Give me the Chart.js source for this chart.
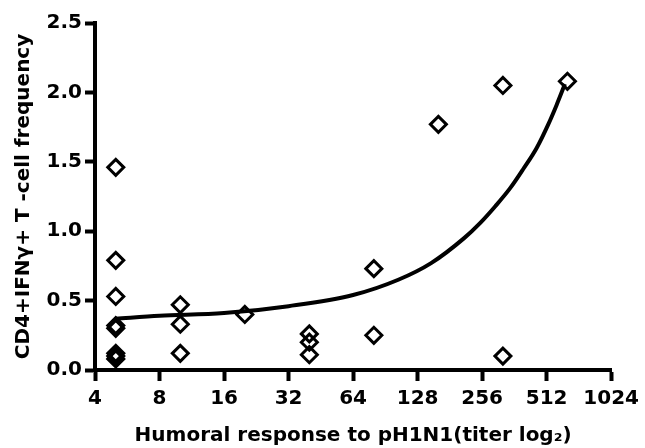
<!DOCTYPE html>
<html>
<head>
<meta charset="utf-8">
<script src="https://cdn.jsdelivr.net/npm/chart.js@4/dist/chart.umd.min.js"></script>
<style>
  html, body { margin: 0; padding: 0; background: #fff; }
  #wrap { width: 645px; height: 448px; position: relative; }
</style>
</head>
<body>
<div id="wrap"><canvas id="titerChart"></canvas></div>
<script>
// titer (x) and CD4+IFNg+ frequency (y) of every subject
const titers = [5, 5, 5, 5, 5, 5, 5, 5, 10, 10, 10, 20, 40, 40, 40, 80, 80, 160, 320, 320, 640];
const freqs = [1.46, 0.79, 0.53, 0.32, 0.30, 0.12, 0.10, 0.08, 0.47, 0.33, 0.12, 0.40, 0.26, 0.20, 0.11, 0.73, 0.25, 1.77, 2.05, 0.10, 2.08];

// fitted curve
const fitX = [5, 8, 16, 32, 64, 104, 148, 211, 251, 295, 346, 399, 460, 521, 570, 623];
const fitY = [0.37, 0.39, 0.41, 0.46, 0.54, 0.65, 0.77, 0.95, 1.06, 1.18, 1.31, 1.45, 1.60, 1.77, 1.91, 2.06];

const xTicks = [4, 8, 16, 32, 64, 128, 256, 512, 1024];
const yTicks = [0, 0.5, 1.0, 1.5, 2.0, 2.5];

const FONT = "'DejaVu Sans', sans-serif";

document.addEventListener("DOMContentLoaded", () => {
    const ctx = document.getElementById("titerChart").getContext("2d");

    new Chart(ctx, {
        type: "scatter",
        data: {
            datasets: [
                {
                    type: "line",
                    data: fitX.map((x, i) => ({ x, y: fitY[i] })),
                    borderColor: "#000",
                    borderWidth: 4,
                    pointRadius: 0,
                    fill: false,
                    cubicInterpolationMode: "monotone",
                },
                {
                    data: titers.map((x, i) => ({ x, y: freqs[i] })),
                    pointStyle: "rectRot",
                    pointRadius: 8,
                    pointBorderWidth: 3,
                    pointBorderColor: "#000",
                    pointBackgroundColor: "rgba(255,255,255,0)",
                },
            ],
        },
        options: {
            responsive: true,
            maintainAspectRatio: false,
            animation: false,
            events: [],
            layout: { padding: { top: 23, right: 29, bottom: 0, left: 0 } },
            plugins: { legend: { display: false }, tooltip: { enabled: false } },
            scales: {
                x: {
                    type: "logarithmic",
                    min: 4,
                    max: 1024,
                    afterBuildTicks: (s) => { s.ticks = xTicks.map((v) => ({ value: v })); },
                    afterFit: (s) => { s.height = 78; },
                    ticks: {
                        autoSkip: false,
                        maxRotation: 0,
                        padding: 6,
                        color: "#000",
                        font: { family: FONT, size: 20, weight: "bold" },
                        callback: (v) => String(v),
                    },
                    grid: { drawOnChartArea: false, drawTicks: true, tickLength: 11, tickWidth: 4, tickColor: "#000" },
                    border: { display: true, color: "#000", width: 4 },
                    title: {
                        display: true,
                        text: "Humoral response to pH1N1(titer log₂)",
                        color: "#000",
                        font: { family: FONT, size: 20, weight: "bold" },
                        padding: { top: 0, bottom: 0 },
                    },
                },
                y: {
                    min: 0,
                    max: 2.5,
                    afterBuildTicks: (s) => { s.ticks = yTicks.map((v) => ({ value: v })); },
                    afterFit: (s) => { s.width = 95; },
                    ticks: {
                        padding: 3,
                        color: "#000",
                        font: { family: FONT, size: 20, weight: "bold" },
                        callback: (v) => Number(v).toFixed(1),
                    },
                    grid: { drawOnChartArea: false, drawTicks: true, tickLength: 10, tickWidth: 4, tickColor: "#000" },
                    border: { display: true, color: "#000", width: 4 },
                    title: {
                        display: true,
                        text: "CD4+IFNγ+ T -cell frequency",
                        color: "#000",
                        font: { family: FONT, size: 20, weight: "bold" },
                        padding: { top: 12, bottom: 0 },
                    },
                },
            },
        },
    });
});
</script>
</body>
</html>
